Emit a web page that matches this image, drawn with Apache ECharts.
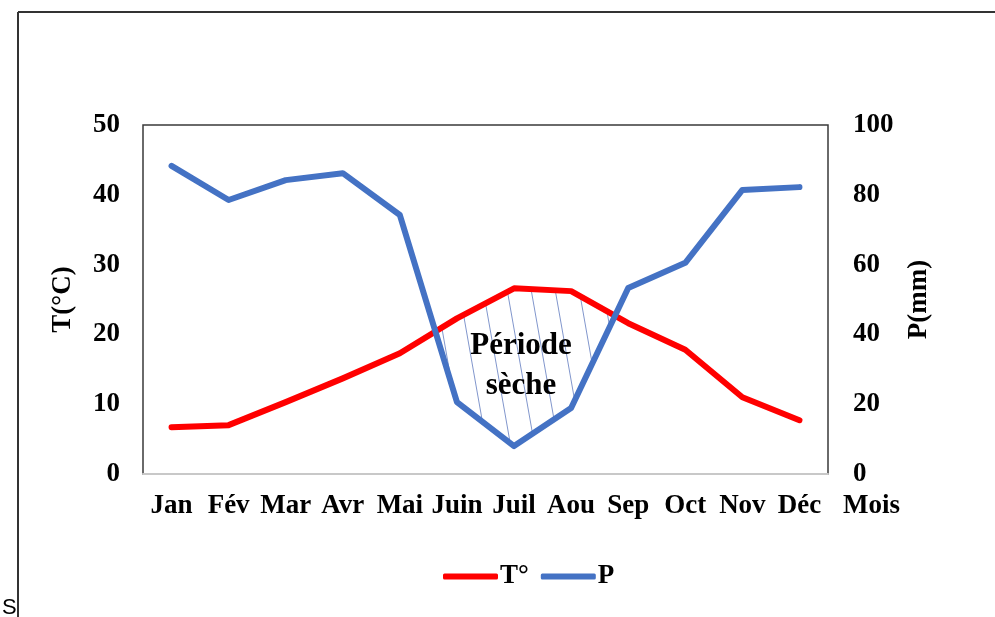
<!DOCTYPE html>
<html>
<head>
<meta charset="utf-8">
<script src="https://cdn.jsdelivr.net/npm/echarts@6/dist/echarts.min.js"></script>
<style>
html,body{margin:0;padding:0;background:#fff;}
#chart{width:995px;height:617px;}
</style>
</head>
<body>
<div id="chart"></div>
<script>
// ---- data ----
var months = ['Jan','Fév','Mar','Avr','Mai','Juin','Juil','Aou','Sep','Oct','Nov','Déc'];
var temperature = [6.7, 7.0, 10.3, 13.7, 17.3, 22.3, 26.6, 26.2, 21.6, 17.8, 11.0, 7.7];
var precipitation = [88.3, 78.5, 84.2, 86.2, 74.2, 20.6, 8.0, 18.9, 53.3, 60.5, 81.4, 82.2];
var tempTicks = {min: 0, max: 50, interval: 10};
var precTicks = {min: 0, max: 100, interval: 20};

var FONT = 'Liberation Serif';
var FS = 27;
var ratio = tempTicks.max / precTicks.max;

// hatch pattern
var pat = document.createElement('canvas');
pat.width = 24; pat.height = 136;
(function(){
  var c = pat.getContext('2d');
  c.strokeStyle = '#8196cc';
  c.lineWidth = 1;
  for (var k = -1; k <= 1; k++) {
    c.beginPath();
    c.moveTo(-24 + 24 * k, -136);
    c.lineTo(48 + 24 * k, 272);
    c.stroke();
  }
})();

function renderHatch(params, api) {
  if (params.dataIndex !== 0) return;
  var n = months.length;
  var tp = [], pp = [], d = [];
  for (var i = 0; i < n; i++) {
    tp.push(api.coord([i, temperature[i]]));
    pp.push(api.coord([i, precipitation[i] * ratio]));
    d.push(temperature[i] - precipitation[i] * ratio);
  }
  function lerp(a, b, f) { return [a[0] + (b[0] - a[0]) * f, a[1] + (b[1] - a[1]) * f]; }
  var children = [];
  var i = 0;
  while (i < n) {
    if (d[i] > 0) {
      var start = i;
      while (i + 1 < n && d[i + 1] > 0) i++;
      var end = i;
      var top = [], bot = [];
      if (start > 0) {
        var f = -d[start - 1] / (d[start] - d[start - 1]);
        top.push(lerp(tp[start - 1], tp[start], f));
      }
      for (var j = start; j <= end; j++) { top.push(tp[j]); bot.push(pp[j]); }
      if (end < n - 1) {
        var g = d[end] / (d[end] - d[end + 1]);
        top.push(lerp(tp[end], tp[end + 1], g));
      }
      var pts = top.concat(bot.reverse());
      children.push({type: 'polygon', shape: {points: pts}, style: {fill: {image: pat, repeat: 'repeat'}, stroke: null}});
    }
    i++;
  }
  return {type: 'group', children: children};
}

var chart = echarts.init(document.getElementById('chart'), null, {renderer: 'canvas'});
chart.setOption({
  backgroundColor: '#fff',
  animation: false,
  grid: {left: 143, top: 125, right: 167, bottom: 143, show: true, borderColor: '#3a3a3a', borderWidth: 1.5, containLabel: false},
  legend: {
    data: ['T°', 'P'], left: 438, top: 558, itemWidth: 55, itemHeight: 6, itemGap: 12, icon: 'roundRect',
    textStyle: {fontFamily: FONT, fontWeight: 'bold', fontSize: FS, color: '#000', padding: [0, 0, 0, -3]}
  },
  xAxis: {
    type: 'category', data: months, boundaryGap: true,
    name: 'Mois', nameLocation: 'end', nameGap: 15,
    nameTextStyle: {fontFamily: FONT, fontWeight: 'bold', fontSize: FS, color: '#000', verticalAlign: 'top', padding: [19, 0, 0, 0]},
    axisLine: {show: true, lineStyle: {color: '#c8c8c8', width: 2}},
    axisTick: {show: false},
    axisLabel: {fontFamily: FONT, fontWeight: 'bold', fontSize: FS, color: '#000', margin: 19, interval: 0}
  },
  yAxis: [{
    type: 'value', min: tempTicks.min, max: tempTicks.max, interval: tempTicks.interval,
    name: 'T(°C)', nameLocation: 'middle', nameGap: 66, nameRotate: 90,
    nameTextStyle: {fontFamily: FONT, fontWeight: 'bold', fontSize: FS, color: '#000'},
    axisLine: {show: false}, axisTick: {show: false}, splitLine: {show: false},
    axisLabel: {fontFamily: FONT, fontWeight: 'bold', fontSize: FS, color: '#000', margin: 23}
  }, {
    type: 'value', position: 'right', min: precTicks.min, max: precTicks.max, interval: precTicks.interval,
    name: 'P(mm)', nameLocation: 'middle', nameGap: 78, nameRotate: 90,
    nameTextStyle: {fontFamily: FONT, fontWeight: 'bold', fontSize: FS, color: '#000'},
    axisLine: {show: false}, axisTick: {show: false}, splitLine: {show: false},
    axisLabel: {fontFamily: FONT, fontWeight: 'bold', fontSize: FS, color: '#000', margin: 25}
  }],
  graphic: [
    {type: 'line', shape: {x1: 18, y1: 12, x2: 995, y2: 12}, style: {stroke: '#333', lineWidth: 2}},
    {type: 'line', shape: {x1: 18, y1: 12, x2: 18, y2: 617}, style: {stroke: '#333', lineWidth: 2}},
    {type: 'text', left: 2, top: 597, style: {text: 'S', font: '22px "Liberation Sans"', fill: '#000'}},
    {type: 'text', x: 521, y: 366, z: 100, style: {text: 'Période\nsèche', font: 'bold 31px "Liberation Serif"', fill: '#000', align: 'center', verticalAlign: 'middle', lineHeight: 40}}
  ],
  series: [{
    type: 'custom', name: 'hatch', data: [0], yAxisIndex: 0, renderItem: renderHatch, z: 1, silent: true
  }, {
    name: 'T°', type: 'line', data: temperature, yAxisIndex: 0, symbol: 'none', z: 3,
    lineStyle: {color: '#ff0000', width: 6, cap: 'round', join: 'round'}, itemStyle: {color: '#ff0000'}
  }, {
    name: 'P', type: 'line', data: precipitation, yAxisIndex: 1, symbol: 'none', z: 3,
    lineStyle: {color: '#4472c4', width: 6, cap: 'round', join: 'round'}, itemStyle: {color: '#4472c4'}
  }]
});
</script>
</body>
</html>
